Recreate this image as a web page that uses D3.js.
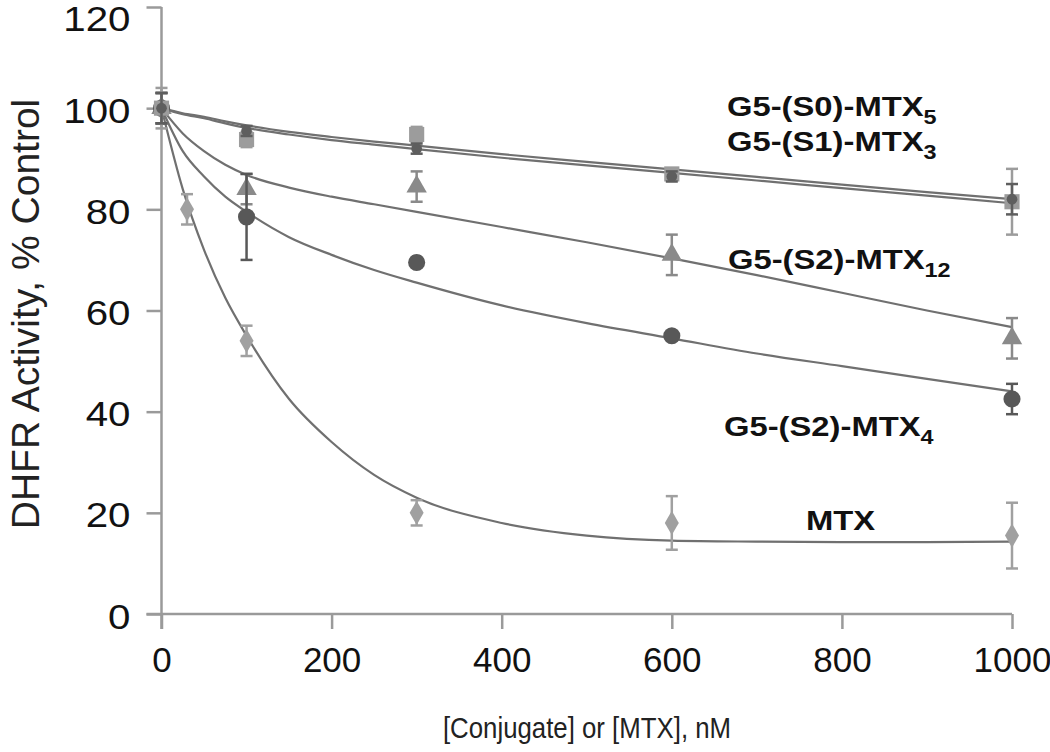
<!DOCTYPE html>
<html>
<head>
<meta charset="utf-8">
<script src="https://cdn.jsdelivr.net/npm/d3@7"></script>
<style>
  body { margin: 0; background: #fff; }
  svg text { font-family: "Liberation Sans", Arial, sans-serif; }
</style>
</head>
<body>
<div id="chart"></div>
<script>
// SVG size
var svgWidth = 1050;
var svgHeight = 752;

// plot area in pixels
var x0 = 161.5, x1 = 1012;
var yTop = 7, yBot = 614;

// x ticks / y ticks
var xTicks = [0, 200, 400, 600, 800, 1000];
var yTicks = [0, 20, 40, 60, 80, 100, 120];

// measured points (concentration, activity, error)
var mtxX = [0, 30, 100, 300, 600, 1000];
var mtxY = [100, 80, 54, 20, 18, 15.5];
var mtxErr = [3, 3, 3, 2.5, 5.3, 6.5];

var s2m4X = [0, 100, 300, 600, 1000];
var s2m4Y = [100, 78.5, 69.5, 55, 42.5];
var s2m4Err = [3, 8.5, 0, 0, 3];

var s2m12X = [0, 100, 300, 600, 1000];
var s2m12Y = [100, 84, 84.5, 71, 54.5];
var s2m12Err = [3, 3, 3, 4, 4];

var s0X = [0, 100, 300, 600, 1000];
var s0Y = [100, 93.8, 94.8, 87, 81.5];
var s0Err = [4, 1.5, 1.5, 1, 6.5];

var s1X = [0, 100, 300, 600, 1000];
var s1Y = [100, 95.5, 92, 86.5, 82];
var s1Err = [3, 1, 1, 1, 3];

// fitted curves
var fitX = [0, 25, 50, 75, 100, 150, 200, 250, 300, 400, 500, 600, 700, 800, 900, 1000];
var fitMtx = [100, 84, 72, 62.5, 55, 42.5, 34, 27.5, 23, 18, 15.5, 14.5, 14.3, 14.2, 14.2, 14.3];
var fitS2m4 = [100, 91.5, 86.5, 82.5, 79.5, 74.5, 71, 68, 65.5, 61, 57.5, 54.5, 51.5, 49, 46.5, 44];
var fitS2m12 = [100, 95, 91.5, 88.8, 86.8, 84.3, 82.5, 81, 79.5, 76.5, 73.5, 70.3, 67, 63.5, 60, 56.7];
var fitS0 = [100, 99, 98.3, 97.4, 96.6, 95.3, 94.3, 93.4, 92.6, 90.9, 89.4, 87.9, 86.4, 84.9, 83.4, 82];
var fitS1 = [100, 98.8, 98, 97, 96.1, 94.8, 93.7, 92.8, 91.9, 90.2, 88.7, 87.2, 85.7, 84.2, 82.7, 81.2];

var svg = d3.select("#chart")
  .append("svg")
  .attr("width", svgWidth)
  .attr("height", svgHeight);

var xScale = d3.scaleLinear().domain([0, 1000]).range([x0, x1]);
var yScale = d3.scaleLinear().domain([0, 120]).range([yBot, yTop]);

var axisColor = "#9a9a9a";

// y axis
var leftAxis = d3.axisLeft(yScale).tickValues(yTicks).tickSize(15).tickFormat(d3.format("d"));
var gy = svg.append("g")
  .attr("transform", `translate(${x0},0)`)
  .call(leftAxis);
gy.select(".domain").remove();
gy.append("line")
  .attr("x1", 0).attr("x2", 0)
  .attr("y1", yTop).attr("y2", yBot + 15)
  .attr("stroke", axisColor).attr("stroke-width", 2.5);
gy.selectAll(".tick line").attr("stroke", axisColor).attr("stroke-width", 2.5);
gy.selectAll(".tick text")
  .attr("x", -27)
  .attr("dy", d => d == 120 ? "0.68em" : "0.4em")
  .attr("transform", "scale(1.15,1)")
  .attr("fill", "#111")
  .style("font-size", "35px");

// x axis
var bottomAxis = d3.axisBottom(xScale).tickValues(xTicks).tickSize(15).tickFormat(d3.format("d"));
var gx = svg.append("g")
  .attr("transform", `translate(0,${yBot})`)
  .call(bottomAxis);
gx.select(".domain").remove();
gx.append("line")
  .attr("x1", x0 - 15).attr("x2", x1)
  .attr("y1", 0).attr("y2", 0)
  .attr("stroke", axisColor).attr("stroke-width", 2.5);
gx.selectAll(".tick line").attr("stroke", axisColor).attr("stroke-width", 2.5);
gx.selectAll(".tick text")
  .attr("y", 58)
  .attr("dy", 0)
  .attr("fill", "#111")
  .style("font-size", "35px");

// axis titles
svg.append("text")
  .attr("x", 0).attr("y", 0)
  .attr("text-anchor", "middle")
  .attr("transform", "translate(587,738) scale(0.86,1)")
  .style("font-size", "30px")
  .attr("fill", "#222")
  .text("[Conjugate] or [MTX], nM");

svg.append("text")
  .attr("transform", "translate(39,314) rotate(-90)")
  .attr("text-anchor", "middle")
  .style("font-size", "39px")
  .attr("fill", "#222")
  .text("DHFR Activity, % Control");

// fitted curves
var line = d3.line()
  .x(d => xScale(d[0]))
  .y(d => yScale(d[1]))
  .curve(d3.curveMonotoneX);

var fits = [fitMtx, fitS2m4, fitS2m12, fitS0, fitS1];
fits.forEach(function (f) {
  svg.append("path")
    .datum(fitX.map((x, i) => [x, f[i]]))
    .attr("d", line)
    .attr("fill", "none")
    .attr("stroke", "#707070")
    .attr("stroke-width", 2.2);
});

// error bars + markers
function drawSeries(xs, ys, errs, color, shape, size) {
  var g = svg.append("g");
  xs.forEach(function (x, i) {
    var cx = xScale(x), cy = yScale(ys[i]);
    if (errs[i] > 0) {
      var top = yScale(ys[i] + errs[i]), bot = yScale(ys[i] - errs[i]);
      g.append("line").attr("x1", cx).attr("x2", cx).attr("y1", top).attr("y2", bot)
        .attr("stroke", color).attr("stroke-width", 2.5);
      g.append("line").attr("x1", cx - 6).attr("x2", cx + 6).attr("y1", top).attr("y2", top)
        .attr("stroke", color).attr("stroke-width", 2.5);
      g.append("line").attr("x1", cx - 6).attr("x2", cx + 6).attr("y1", bot).attr("y2", bot)
        .attr("stroke", color).attr("stroke-width", 2.5);
    }
    g.append("path")
      .attr("d", d3.symbol().type(shape).size(size)())
      .attr("transform", `translate(${cx},${cy})`)
      .attr("fill", color);
  });
}

drawSeries(mtxX, mtxY, mtxErr, "#a0a0a0", d3.symbolDiamond, 170);
drawSeries(s2m12X, s2m12Y, s2m12Err, "#8a8a8a", d3.symbolTriangle, 180);
drawSeries(s2m4X, s2m4Y, s2m4Err, "#585858", d3.symbolCircle, 230);
drawSeries(s0X, s0Y, s0Err, "#9c9c9c", d3.symbolSquare, 230);
drawSeries(s1X, s1Y, s1Err, "#5e5e5e", d3.symbolCircle, 90);

// series labels
var labels = [
  { t: "G5-(S0)-MTX", sub: "5", x: 727, y: 116 },
  { t: "G5-(S1)-MTX", sub: "3", x: 727, y: 151 },
  { t: "G5-(S2)-MTX", sub: "12", x: 728, y: 269 },
  { t: "G5-(S2)-MTX", sub: "4", x: 724, y: 436 },
  { t: "MTX", sub: "", x: 806, y: 530 }
];
labels.forEach(function (l) {
  var txt = svg.append("text")
    .attr("x", 0).attr("y", 0)
    .attr("transform", `translate(${l.x},${l.y}) scale(1.17,1)`)
    .style("font-size", "28px")
    .style("font-weight", "bold")
    .attr("fill", "#111")
    .text(l.t);
  if (l.sub) {
    txt.append("tspan")
      .attr("dy", 8)
      .style("font-size", "20px")
      .text(l.sub);
  }
});
</script>
</body>
</html>
